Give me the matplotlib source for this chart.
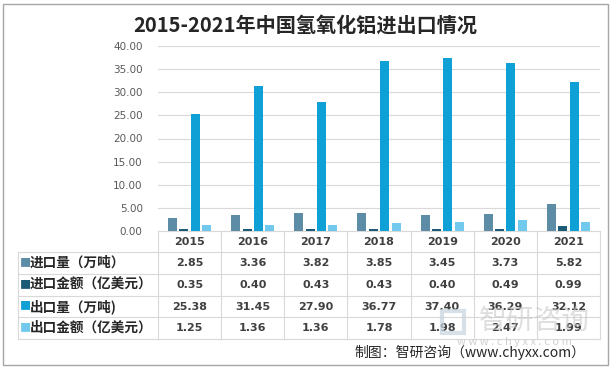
import numpy as np
import matplotlib
matplotlib.use('Agg')
import matplotlib.pyplot as plt
from matplotlib.patches import Rectangle
from matplotlib.transforms import blended_transform_factory

plt.rcParams['font.family'] = ['Noto Sans CJK SC', 'DejaVu Sans']

# Datos
years = ['2015', '2016', '2017', '2018', '2019', '2020', '2021']
import_qty = [2.85, 3.36, 3.82, 3.85, 3.45, 3.73, 5.82]
import_val = [0.35, 0.40, 0.43, 0.43, 0.40, 0.49, 0.99]
export_qty = [25.38, 31.45, 27.90, 36.77, 37.40, 36.29, 32.12]
export_val = [1.25, 1.36, 1.36, 1.78, 1.98, 2.47, 1.99]

series = [import_qty, import_val, export_qty, export_val]
labels = ['进口量（万吨）', '进口金额（亿美元）', '出口量（万吨)', '出口金额（亿美元）']
colors = ['#5D8CA7', '#1B5B76', '#0FA0D6', '#72C9EE']

W, H = 612, 368
fig = plt.figure(figsize=(W / 100, H / 100), dpi=100)

def fy(py):
    return 1 - py / H

def fx(px):
    return px / W

# Ejes del gráfico de barras
x0, x1, y_top, y_bot = 158, 600, 46, 231
ax = fig.add_axes([fx(x0), fy(y_bot), (x1 - x0) / W, (y_bot - y_top) / H])
x = np.arange(len(years))
width = 0.143
step = 0.18
for i, vals in enumerate(series):
    ax.bar(x + (i - 1.5) * step, vals, width=width, color=colors[i], zorder=3)

ax.set_xlim(-0.5, len(years) - 0.5)
ax.set_ylim(0, 40)
ax.set_yticks(np.arange(0, 41, 5))
ax.set_yticklabels([f'{v:.2f}' for v in np.arange(0, 41, 5)], fontsize=7.5,
                   color='#595959', family=['DejaVu Sans'])
ax.tick_params(axis='y', length=0, pad=11)
ax.set_xticks([])
ax.grid(axis='y', color='#D9D9D9', lw=0.8, zorder=0)
for s in ax.spines.values():
    s.set_visible(False)

# Tabla de datos
trans = blended_transform_factory(ax.transData, fig.transFigure)
col_w = (x1 - x0) / len(years)
x_left = -0.5 + (18 - x0) / col_w
rows_px = [231, 252, 274, 296, 317, 339]
line_kw = dict(color='#D9D9D9', lw=0.8, transform=trans, clip_on=False)

ax.plot([-0.5, 6.5], [fy(231)] * 2, **line_kw)
for py in rows_px[1:]:
    ax.plot([x_left, 6.5], [fy(py)] * 2, **line_kw)
for i in range(len(years) + 1):
    ax.plot([-0.5 + i] * 2, [fy(231), fy(339)], **line_kw)
ax.plot([x_left] * 2, [fy(252), fy(339)], **line_kw)

txt_kw = dict(transform=trans, ha='center', va='center', fontsize=8,
              fontweight='bold', color='#404040', family=['DejaVu Sans'])
for j, yr in enumerate(years):
    ax.text(j, fy(242), yr, **txt_kw)
for r, vals in enumerate(series):
    yc = fy((rows_px[r + 1] + rows_px[r + 2]) / 2)
    for j, v in enumerate(vals):
        ax.text(j, yc, f'{v:.2f}', **txt_kw)
    fig.text(fx(20), yc, '■', color=colors[r], fontsize=8, va='center', ha='left')
    fig.text(fx(30), yc, labels[r], color='#262626', fontsize=9.8,
             fontweight='bold', va='center', ha='left')

# Título
fig.text(fx(305), fy(25), '2015-2021年中国氢氧化铝进出口情况', ha='center', va='center',
         fontsize=14.5, fontweight='bold', color='#262626')

# Marca de agua y fuente
fig.text(fx(534), fy(321), '智研咨询', ha='center', va='center', fontsize=20,
         color='#C8C8C8', alpha=0.6, zorder=0)
fig.patches.append(Rectangle((fx(442), fy(333)), 22 / W, 22 / H, fill=False,
                             ec='#C8D4DE', lw=3, alpha=0.7, transform=fig.transFigure))
fig.text(fx(514), fy(342), 'w w w . c h y x x . c o m', ha='center', va='center',
         fontsize=8, color='#D0D0D0', zorder=0)
fig.text(fx(470), fy(352), '制图：智研咨询（www.chyxx.com）', ha='center', va='center',
         fontsize=10, color='#262626')

# Marco exterior
fig.patches.append(Rectangle((fx(3), fy(365)), (W - 7) / W, 361 / H, fill=False,
                             ec='#A6A6A6', lw=1, transform=fig.transFigure))

fig.savefig('out.png', dpi=100)
